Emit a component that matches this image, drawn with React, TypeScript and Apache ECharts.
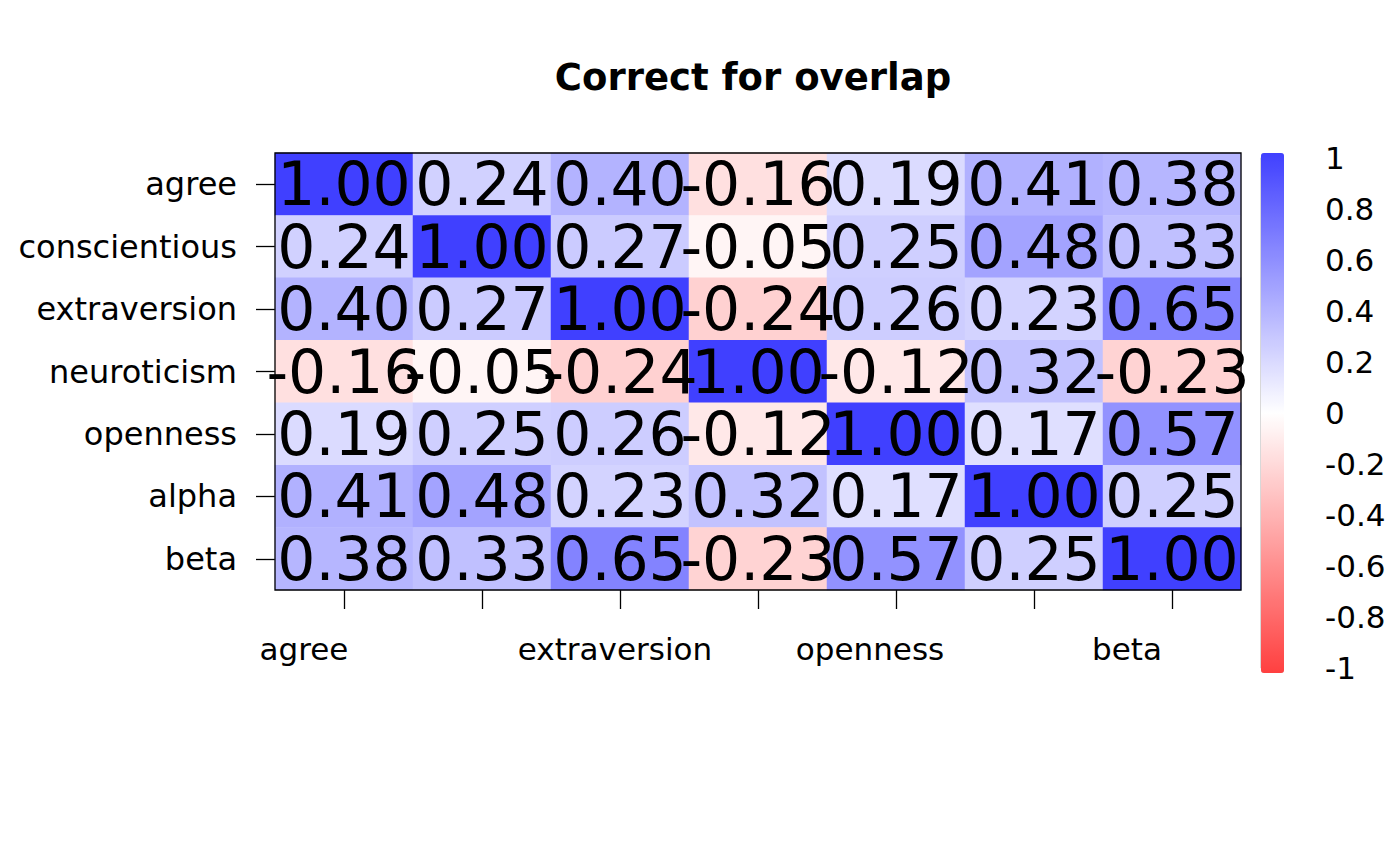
import React, { useEffect, useRef } from "react";
import * as echarts from "echarts";

const variables = ["agree", "conscientious", "extraversion", "neuroticism", "openness", "alpha", "beta"];

const rowAgree = [1.0, 0.24, 0.4, -0.16, 0.19, 0.41, 0.38];
const rowConscientious = [0.24, 1.0, 0.27, -0.05, 0.25, 0.48, 0.33];
const rowExtraversion = [0.4, 0.27, 1.0, -0.24, 0.26, 0.23, 0.65];
const rowNeuroticism = [-0.16, -0.05, -0.24, 1.0, -0.12, 0.32, -0.23];
const rowOpenness = [0.19, 0.25, 0.26, -0.12, 1.0, 0.17, 0.57];
const rowAlpha = [0.41, 0.48, 0.23, 0.32, 0.17, 1.0, 0.25];
const rowBeta = [0.38, 0.33, 0.65, -0.23, 0.57, 0.25, 1.0];

const rows = [rowAgree, rowConscientious, rowExtraversion, rowNeuroticism, rowOpenness, rowAlpha, rowBeta];

const FONT = "DejaVu Sans";

// leftward shift (px) of each shown x label, as placed in the reference
const xLabelShift: Record<number, number> = { 0: 40, 2: 5, 4: 26, 6: 45 };

export default function App() {
  const ref = useRef<HTMLDivElement>(null);
  useEffect(() => {
    if (!ref.current) return;
    const chart = echarts.init(ref.current, null, { renderer: "svg" });
    const data: [number, number, number][] = [];
    rows.forEach((r, yi) => r.forEach((v, xi) => data.push([xi, yi, v])));

    const gl = 275, gt = 153, gw = 966, gh = 437;

    const rich: Record<string, any> = {};
    Object.keys(xLabelShift).forEach((k) => {
      rich["x" + k] = {
        fontSize: 31,
        color: "#000",
        fontFamily: FONT,
        padding: [0, 2 * xLabelShift[Number(k)], 0, 0],
      };
    });

    chart.setOption({
      animation: false,
      backgroundColor: "#fff",
      textStyle: { fontFamily: FONT },
      title: {
        text: "Correct for overlap",
        left: 748,
        textAlign: "center",
        top: 54,
        textStyle: { fontFamily: FONT, fontSize: 37, fontWeight: "bold", color: "#000" },
      },
      grid: [
        { left: gl, top: gt, width: gw, height: gh },
        { left: 1261, top: 158, width: 23, height: 510 },
      ],
      xAxis: [
        {
          type: "category",
          gridIndex: 0,
          data: variables,
          position: "bottom",
          axisLine: { show: false },
          axisTick: { show: true, interval: 0, alignWithLabel: true, length: 19, lineStyle: { color: "#000", width: 1.3 } },
          axisLabel: {
            interval: 1,
            fontSize: 31,
            color: "#000",
            margin: 43,
            fontFamily: FONT,
            formatter: (v: string, i: number) => `{x${i}|${v}}`,
            rich,
          },
          splitLine: { show: false },
        },
        { type: "value", gridIndex: 1, show: false, min: 0, max: 1 },
      ],
      yAxis: [
        {
          type: "category",
          gridIndex: 0,
          data: variables,
          inverse: true,
          axisLine: { show: false },
          axisTick: { show: true, interval: 0, alignWithLabel: true, length: 19, lineStyle: { color: "#000", width: 1.3 } },
          axisLabel: { interval: 0, fontSize: 32, color: "#000", margin: 38, fontFamily: FONT },
          splitLine: { show: false },
        },
        {
          type: "value",
          gridIndex: 1,
          position: "right",
          min: -1,
          max: 1,
          interval: 0.2,
          axisLine: { show: true, lineStyle: { color: "#000", width: 1.3 } },
          axisTick: { show: true, length: 19, lineStyle: { color: "#000", width: 1.3 } },
          axisLabel: {
            fontSize: 31,
            color: "#000",
            margin: 41,
            fontFamily: FONT,
            formatter: (v: number) => String(Math.round(v * 10) / 10),
          },
          splitLine: { show: false },
        },
      ],
      visualMap: {
        type: "continuous",
        seriesIndex: 0,
        min: -1,
        max: 1,
        show: true,
        calculable: false,
        left: 1261,
        top: 153,
        padding: 0,
        itemWidth: 23,
        itemHeight: 520,
        text: null,
        inRange: { color: ["#FF4040", "#FFFFFF", "#4040FF"] },
      },
      series: [
        {
          type: "heatmap",
          xAxisIndex: 0,
          yAxisIndex: 0,
          data,
          label: {
            show: true,
            fontSize: 60,
            color: "#000",
            fontFamily: FONT,
            formatter: (p: any) => (p.value[2] as number).toFixed(2),
          },
          itemStyle: { borderWidth: 0 },
          emphasis: { disabled: true },
        },
        { type: "line", xAxisIndex: 1, yAxisIndex: 1, data: [], silent: true },
      ],
      graphic: [
        {
          type: "rect",
          shape: { x: gl, y: gt, width: gw, height: gh },
          style: { fill: "none", stroke: "#000", lineWidth: 1.3 },
          z: 100,
          silent: true,
        },
      ],
    });
    return () => chart.dispose();
  }, []);
  return (
    <div
      ref={ref}
      style={{ position: "fixed", left: 0, top: 0, width: 1400, height: 866, background: "#fff" }}
    />
  );
}
